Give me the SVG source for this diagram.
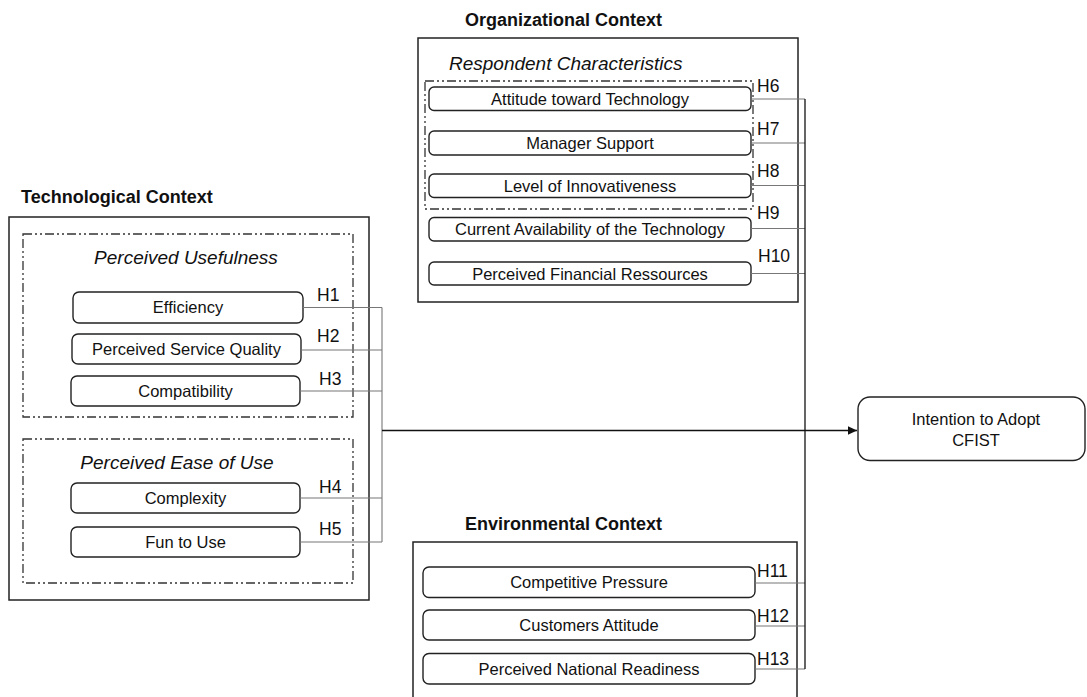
<svg xmlns="http://www.w3.org/2000/svg" width="1087" height="697" viewBox="0 0 1087 697">
<defs>
<style>
text{font-family:"Liberation Sans",Arial,sans-serif;fill:#111}
.title{font-size:18px;font-weight:bold}
.ital{font-size:19px;font-style:italic}
.lbl{font-size:16.5px;text-anchor:middle}
.h{font-size:17.5px}
.panel{fill:#fff;stroke:#222;stroke-width:1.5}
.dash{fill:none;stroke:#333;stroke-width:1.3;stroke-dasharray:9 3 2 3 2 3}
.box{fill:#fff;stroke:#222;stroke-width:1.4}
.con{fill:none;stroke:#777;stroke-width:1.1}
.main{fill:none;stroke:#111;stroke-width:1.5}
</style>
<marker id="arr" markerWidth="10" markerHeight="10" refX="9" refY="5" orient="auto" markerUnits="userSpaceOnUse">
<path d="M0,0.8 L9,5 L0,9.2 Z" fill="#111"/>
</marker>
</defs>

<g id="tech-context">
<text class="title" x="21" y="203">Technological Context</text>
<rect class="panel" x="9" y="217" width="360" height="383"/>
<rect class="dash" x="23" y="234" width="330" height="183"/>
<text class="ital" x="186" y="264" text-anchor="middle">Perceived Usefulness</text>
<rect class="dash" x="23" y="439" width="330" height="144"/>
<text class="ital" x="177" y="469" text-anchor="middle">Perceived Ease of Use</text>
</g>

<g id="efficiency"><rect class="box" x="73" y="292" width="230" height="31" rx="6"/><text class="lbl" x="188" y="313">Efficiency</text></g>
<g id="service-quality"><rect class="box" x="72" y="334" width="229" height="30" rx="6"/><text class="lbl" x="186.5" y="355">Perceived Service Quality</text></g>
<g id="compatibility"><rect class="box" x="71" y="376" width="229" height="30" rx="6"/><text class="lbl" x="185.5" y="397">Compatibility</text></g>
<g id="complexity"><rect class="box" x="71" y="483" width="229" height="30" rx="6"/><text class="lbl" x="185.5" y="504">Complexity</text></g>
<g id="fun-to-use"><rect class="box" x="71" y="527" width="229" height="30" rx="6"/><text class="lbl" x="185.5" y="548">Fun to Use</text></g>

<g id="org-context">
<text class="title" x="465" y="26">Organizational Context</text>
<rect class="panel" x="418" y="38" width="380" height="264"/>
<text class="ital" x="449" y="69.5">Respondent Characteristics</text>
<rect class="dash" x="425" y="81" width="328" height="128"/>
</g>

<g id="attitude"><rect class="box" x="429" y="87" width="322" height="23.5" rx="5"/><text class="lbl" x="590" y="105">Attitude toward Technology</text></g>
<g id="manager-support"><rect class="box" x="429" y="131" width="322" height="24" rx="5"/><text class="lbl" x="590" y="149">Manager Support</text></g>
<g id="innovativeness"><rect class="box" x="429" y="174" width="322" height="23.5" rx="5"/><text class="lbl" x="590" y="191.5">Level of Innovativeness</text></g>
<g id="availability"><rect class="box" x="429" y="217.5" width="322" height="23.5" rx="5"/><text class="lbl" x="590" y="235">Current Availability of the Technology</text></g>
<g id="financial"><rect class="box" x="429" y="262" width="322" height="23" rx="5"/><text class="lbl" x="590" y="279.5">Perceived Financial Ressources</text></g>

<g id="env-context">
<text class="title" x="465" y="530">Environmental Context</text>
<path class="panel" d="M413,710 V542 H797 V710" fill="none"/>
</g>

<g id="competitive"><rect class="box" x="423" y="567" width="332" height="30.5" rx="6"/><text class="lbl" x="589" y="588">Competitive Pressure</text></g>
<g id="customers"><rect class="box" x="423" y="610" width="332" height="30" rx="6"/><text class="lbl" x="589" y="631">Customers Attitude</text></g>
<g id="readiness"><rect class="box" x="423" y="653.5" width="332" height="30.5" rx="6"/><text class="lbl" x="589" y="674.5">Perceived National Readiness</text></g>

<g id="intention"><rect class="box" x="858" y="397" width="227" height="63.5" rx="12"/>
<text class="lbl" x="976" y="424.5">Intention to Adopt</text>
<text class="lbl" x="976" y="446">CFIST</text></g>

<g id="connectors">
<path class="con" d="M303,307.5 H382 M301,350 H382 M300,391 H382 M300,498 H382 M300,542 H382 M382,307.5 V542"/>
<path class="main" d="M382,430.5 H857" marker-end="url(#arr)"/>
<path class="con" d="M751,99 H805 M751,143 H805 M751,185.5 H805 M751,228.5 H805 M751,273.5 H805 M755,583 H805 M755,626 H805 M755,669 H805"/>
<path class="main" d="M805,99 V669" style="stroke-width:1.3"/>
</g>

<g id="hypothesis-labels">
<text class="h" x="317" y="300.5">H1</text>
<text class="h" x="317" y="342">H2</text>
<text class="h" x="319" y="385">H3</text>
<text class="h" x="319" y="493">H4</text>
<text class="h" x="319" y="535">H5</text>
<text class="h" x="757" y="92">H6</text>
<text class="h" x="757" y="135">H7</text>
<text class="h" x="757" y="176.5">H8</text>
<text class="h" x="757" y="218.5">H9</text>
<text class="h" x="758" y="261.5">H10</text>
<text class="h" x="757" y="577">H11</text>
<text class="h" x="757" y="622">H12</text>
<text class="h" x="757" y="665">H13</text>
</g>
</svg>
